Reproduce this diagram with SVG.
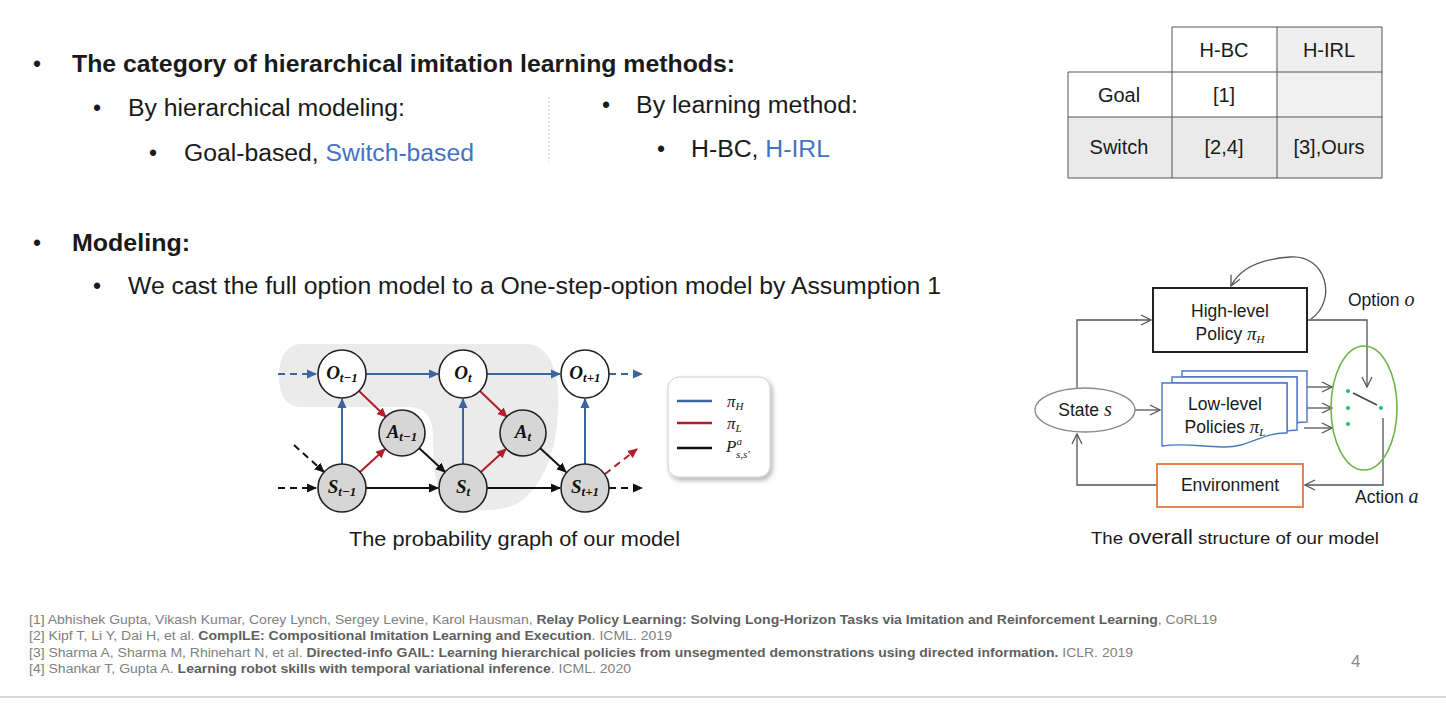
<svg xmlns="http://www.w3.org/2000/svg" width="1446" height="720" viewBox="0 0 1446 720">
  <style>
    .sans { font-family: "Liberation Sans", Arial, sans-serif; }
    .body { font-family: "Liberation Sans", Arial, sans-serif; font-size: 23px; fill: #1a1a1a; }
    .bold { font-weight: bold; }
    .blue { fill: #4472c4; }
    .bullet { font-family: "Liberation Sans", Arial, sans-serif; font-size: 23px; fill: #1a1a1a; text-anchor: middle; }
    .math { font-family: "Liberation Serif", "Times New Roman", serif; font-style: italic; }
    .nodelabel { font-family: "Liberation Serif", "Times New Roman", serif; font-style: italic; font-weight: bold; font-size: 19px; fill: #111; text-anchor: middle; }
    .cell { font-family: "Liberation Sans", Arial, sans-serif; font-size: 20px; fill: #1a1a1a; text-anchor: middle; }
    .ref { font-family: "Liberation Sans", Arial, sans-serif; font-size: 12.5px; fill: #7f7f7f; }
    .refb { font-weight: bold; fill: #5f5f5f; }
    .lbl { font-family: "Liberation Sans", Arial, sans-serif; font-size: 17.5px; fill: #1a1a1a; }
    .edge-b { stroke: #3b64a0; stroke-width: 2; fill: none; }
    .edge-r { stroke: #b21e2b; stroke-width: 2; fill: none; }
    .edge-k { stroke: #111; stroke-width: 2; fill: none; }
    .dash { stroke-dasharray: 7 5; }
    .flow { stroke: #555; stroke-width: 1.3; fill: none; marker-end: url(#open); }
  </style>
  <defs>
    <marker id="ah-b" viewBox="0 0 10 10" refX="9" refY="5" markerWidth="10" markerHeight="10" markerUnits="userSpaceOnUse" orient="auto">
      <path d="M0,0.5 L10,5 L0,9.5 Z" fill="#3b64a0"/>
    </marker>
    <marker id="ah-r" viewBox="0 0 10 10" refX="9" refY="5" markerWidth="10" markerHeight="10" markerUnits="userSpaceOnUse" orient="auto">
      <path d="M0,0.5 L10,5 L0,9.5 Z" fill="#b21e2b"/>
    </marker>
    <marker id="ah-k" viewBox="0 0 10 10" refX="9" refY="5" markerWidth="10" markerHeight="10" markerUnits="userSpaceOnUse" orient="auto">
      <path d="M0,0.5 L10,5 L0,9.5 Z" fill="#111"/>
    </marker>
    <marker id="open" viewBox="0 0 12 12" refX="11" refY="6" markerWidth="12" markerHeight="12" markerUnits="userSpaceOnUse" orient="auto">
      <path d="M1,1 L11,6 L1,11" fill="none" stroke="#555" stroke-width="1.3"/>
    </marker>
    <filter id="shadow" x="-20%" y="-20%" width="150%" height="150%">
      <feDropShadow dx="2" dy="3" stdDeviation="2.5" flood-color="#000" flood-opacity="0.3"/>
    </filter>
  </defs>

  <rect width="1446" height="720" fill="#ffffff"/>

  <!-- Bullet list: categories -->
  <g id="category-list">
    <text class="bullet" x="37" y="72">•</text>
    <text class="body bold" x="72" y="72" textLength="663" lengthAdjust="spacingAndGlyphs">The category of hierarchical imitation learning methods:</text>
    <text class="bullet" x="97" y="116">•</text>
    <text class="body" x="128" y="116" textLength="277" lengthAdjust="spacingAndGlyphs">By hierarchical modeling:</text>
    <text class="bullet" x="153" y="161">•</text>
    <text class="body" x="184" y="161" textLength="290" lengthAdjust="spacingAndGlyphs">Goal-based, <tspan class="blue">Switch-based</tspan></text>
    <line x1="549" y1="97" x2="549" y2="162" stroke="#cfcfcf" stroke-width="1" stroke-dasharray="2 2"/>
    <text class="bullet" x="606" y="113">•</text>
    <text class="body" x="636" y="113" textLength="222" lengthAdjust="spacingAndGlyphs">By learning method:</text>
    <text class="bullet" x="661" y="157">•</text>
    <text class="body" x="691" y="157" textLength="139" lengthAdjust="spacingAndGlyphs">H-BC, <tspan class="blue">H-IRL</tspan></text>
  </g>

  <!-- Comparison table -->
  <g id="method-table">
    <rect x="1172" y="27" width="105" height="45" fill="#ffffff"/>
    <rect x="1277" y="27" width="105" height="45" fill="#efefef"/>
    <rect x="1068" y="72" width="209" height="45" fill="#ffffff"/>
    <rect x="1277" y="72" width="105" height="45" fill="#f1f1f1"/>
    <rect x="1068" y="117" width="314" height="61" fill="#eaeaea"/>
    <g stroke="#555" stroke-width="1" fill="none">
      <path d="M1172,27 H1382 V178 H1068 V72 H1382 M1068,117 H1382 M1172,27 V178 M1277,27 V178"/>
    </g>
    <text class="cell" x="1224" y="57">H-BC</text>
    <text class="cell" x="1329" y="57">H-IRL</text>
    <text class="cell" x="1119" y="102">Goal</text>
    <text class="cell" x="1224" y="102">[1]</text>
    <text class="cell" x="1119" y="154">Switch</text>
    <text class="cell" x="1224" y="154">[2,4]</text>
    <text class="cell" x="1329" y="154">[3],Ours</text>
  </g>

  <!-- Bullet list: modeling -->
  <g id="modeling-list">
    <text class="bullet" x="37" y="251">•</text>
    <text class="body bold" x="72" y="251" textLength="118" lengthAdjust="spacingAndGlyphs">Modeling:</text>
    <text class="bullet" x="97" y="294">•</text>
    <text class="body" x="128" y="294" textLength="813" lengthAdjust="spacingAndGlyphs">We cast the full option model to a One-step-option model by Assumption 1</text>
  </g>

  <!-- Probability graph: shaded option region behind the nodes -->
  <path id="option-region" d="M302,344 L528,344 C554,347 560,380 558,412 C556,452 544,484 520,502 C504,512 470,513 448,506 C433,490 433,455 433,435 C433,418 426,407 408,407 L302,407 C285,407 279,394 279,376 C279,357 287,344 302,344 Z" fill="#ebebeb"/>

  <g id="graph-connectors">
    <!-- option chain -->
    <line class="edge-b dash" x1="278" y1="374" x2="316" y2="374" marker-end="url(#ah-b)"/>
    <line class="edge-b" x1="366" y1="374" x2="438" y2="374" marker-end="url(#ah-b)"/>
    <line class="edge-b" x1="487" y1="374" x2="560" y2="374" marker-end="url(#ah-b)"/>
    <line class="edge-b dash" x1="609" y1="374" x2="642" y2="374" marker-end="url(#ah-b)"/>
    <!-- state to option -->
    <line class="edge-b" x1="342" y1="464" x2="342" y2="399" marker-end="url(#ah-b)"/>
    <line class="edge-b" x1="463" y1="464" x2="463" y2="399" marker-end="url(#ah-b)"/>
    <line class="edge-b" x1="585" y1="464" x2="585" y2="399" marker-end="url(#ah-b)"/>
    <!-- low-level policy -->
    <line class="edge-r" x1="359" y1="391" x2="386" y2="417" marker-end="url(#ah-r)"/>
    <line class="edge-r" x1="480" y1="391" x2="507" y2="417" marker-end="url(#ah-r)"/>
    <line class="edge-r" x1="360" y1="472" x2="385" y2="449" marker-end="url(#ah-r)"/>
    <line class="edge-r" x1="481" y1="472" x2="506" y2="449" marker-end="url(#ah-r)"/>
    <line class="edge-r dash" x1="605" y1="474" x2="637" y2="449" marker-end="url(#ah-r)"/>
    <!-- transitions -->
    <line class="edge-k dash" x1="294" y1="445" x2="324" y2="472" marker-end="url(#ah-k)"/>
    <line class="edge-k dash" x1="278" y1="488" x2="316" y2="488" marker-end="url(#ah-k)"/>
    <line class="edge-k" x1="419" y1="448" x2="445" y2="472" marker-end="url(#ah-k)"/>
    <line class="edge-k" x1="540" y1="448" x2="566" y2="472" marker-end="url(#ah-k)"/>
    <line class="edge-k" x1="366" y1="488" x2="438" y2="488" marker-end="url(#ah-k)"/>
    <line class="edge-k" x1="487" y1="488" x2="560" y2="488" marker-end="url(#ah-k)"/>
    <line class="edge-k dash" x1="609" y1="488" x2="642" y2="488" marker-end="url(#ah-k)"/>
  </g>

  <g id="node-o-prev">
    <circle cx="342" cy="374" r="24" fill="#fff" stroke="#222" stroke-width="1.6"/>
    <text class="nodelabel" x="342" y="379">O<tspan font-size="13" dy="3">t−1</tspan></text>
  </g>
  <g id="node-o-cur">
    <circle cx="463" cy="374" r="24" fill="#fff" stroke="#222" stroke-width="1.6"/>
    <text class="nodelabel" x="463" y="379">O<tspan font-size="13" dy="3">t</tspan></text>
  </g>
  <g id="node-o-next">
    <circle cx="585" cy="374" r="24" fill="#fff" stroke="#222" stroke-width="1.6"/>
    <text class="nodelabel" x="585" y="379">O<tspan font-size="13" dy="3">t+1</tspan></text>
  </g>
  <g id="node-a-prev">
    <circle cx="402" cy="433" r="23" fill="#d6d6d6" stroke="#222" stroke-width="1.6"/>
    <text class="nodelabel" x="402" y="438">A<tspan font-size="13" dy="3">t−1</tspan></text>
  </g>
  <g id="node-a-cur">
    <circle cx="523" cy="433" r="23" fill="#d6d6d6" stroke="#222" stroke-width="1.6"/>
    <text class="nodelabel" x="523" y="438">A<tspan font-size="13" dy="3">t</tspan></text>
  </g>
  <g id="node-s-prev">
    <circle cx="342" cy="488" r="24" fill="#d6d6d6" stroke="#222" stroke-width="1.6"/>
    <text class="nodelabel" x="342" y="493">S<tspan font-size="13" dy="3">t−1</tspan></text>
  </g>
  <g id="node-s-cur">
    <circle cx="463" cy="488" r="24" fill="#d6d6d6" stroke="#222" stroke-width="1.6"/>
    <text class="nodelabel" x="463" y="493">S<tspan font-size="13" dy="3">t</tspan></text>
  </g>
  <g id="node-s-next">
    <circle cx="585" cy="488" r="24" fill="#d6d6d6" stroke="#222" stroke-width="1.6"/>
    <text class="nodelabel" x="585" y="493">S<tspan font-size="13" dy="3">t+1</tspan></text>
  </g>

  <!-- Legend -->
  <g id="graph-legend">
    <rect x="668" y="377" width="102" height="100" rx="11" fill="#fff" stroke="#d0d0d0" filter="url(#shadow)"/>
    <line x1="677" y1="401" x2="712" y2="401" stroke="#3b64a0" stroke-width="2.5"/>
    <line x1="677" y1="423" x2="712" y2="423" stroke="#b21e2b" stroke-width="2.5"/>
    <line x1="677" y1="448" x2="712" y2="448" stroke="#111" stroke-width="2.5"/>
    <text class="math" x="727" y="407" font-size="17" fill="#222">π<tspan font-size="11" dy="3">H</tspan></text>
    <text class="math" x="727" y="429" font-size="17" fill="#222">π<tspan font-size="11" dy="3">L</tspan></text>
    <text class="math" x="726" y="452" font-size="17" fill="#222">P<tspan font-size="11" dy="-7">a</tspan><tspan font-size="11" dx="-6" dy="13">s,s'</tspan></text>
  </g>

  <text class="sans" x="349" y="546" font-size="19.5" fill="#1a1a1a" textLength="331" lengthAdjust="spacingAndGlyphs">The probability graph of our model</text>

  <!-- Overall structure -->
  <g id="structure-connectors">
    <path class="flow" d="M1311,319 C1338,300 1326,254 1290,257 C1262,259 1240,268 1231,286"/>
    <path class="flow" d="M1307,320 H1367 V387"/>
    <path class="flow" d="M1077,388 V320 H1151"/>
    <path class="flow" d="M1135,410 H1160"/>
    <path class="flow" d="M1304,387 H1332"/>
    <path class="flow" d="M1304,408 H1332"/>
    <path class="flow" d="M1304,428 H1332"/>
    <path class="flow" d="M1383,418 V485 H1305"/>
    <path class="flow" d="M1157,485 H1077 V434"/>
  </g>

  <g id="high-level-policy">
    <rect x="1153" y="288" width="154" height="64" fill="#fff" stroke="#222" stroke-width="2"/>
    <text class="lbl" x="1230" y="317" text-anchor="middle">High-level</text>
    <text class="lbl" x="1230" y="340" text-anchor="middle">Policy <tspan class="math" font-size="19">π</tspan><tspan class="math" font-size="11" dy="3">H</tspan></text>
  </g>

  <g id="state">
    <ellipse cx="1085" cy="410" rx="50" ry="22" fill="#fff" stroke="#8a8a8a" stroke-width="1.3"/>
    <text class="lbl" x="1085" y="416" text-anchor="middle">State <tspan class="math" font-size="20">s</tspan></text>
  </g>

  <g id="low-level-policies">
    <path d="M1182,371 H1307 V422 C1300,422 1297,423 1297,423 V377 H1182 Z" fill="#fff" stroke="#4a78c0" stroke-width="1.4"/>
    <path d="M1172,377 H1297 V430 C1292,430 1289,431 1287,431 V383 H1172 Z" fill="#fff" stroke="#4a78c0" stroke-width="1.4"/>
    <path d="M1162,383 H1287 V433 C1262,432 1250,448 1222,447 C1196,446 1182,443 1162,446 Z" fill="#fff" stroke="#4a78c0" stroke-width="1.4"/>
    <text class="lbl" x="1225" y="410" text-anchor="middle">Low-level</text>
    <text class="lbl" x="1225" y="433" text-anchor="middle">Policies <tspan class="math" font-size="19">π</tspan><tspan class="math" font-size="11" dy="3">L</tspan></text>
  </g>

  <g id="option-switch">
    <ellipse cx="1364" cy="408" rx="33" ry="62" fill="none" stroke="#6cb548" stroke-width="1.6"/>
    <circle cx="1348" cy="391" r="2" fill="#1fbf6a"/>
    <circle cx="1348" cy="408" r="2" fill="#1fbf6a"/>
    <circle cx="1348" cy="424" r="2" fill="#1fbf6a"/>
    <circle cx="1381" cy="408" r="2" fill="#1fbf6a"/>
    <line x1="1353" y1="393" x2="1377" y2="405" stroke="#444" stroke-width="1.4"/>
  </g>

  <g id="environment">
    <rect x="1157" y="464" width="146" height="43" fill="#fff" stroke="#e4763f" stroke-width="1.8"/>
    <text class="lbl" x="1230" y="491" text-anchor="middle">Environment</text>
  </g>

  <text class="lbl" x="1348" y="306">Option <tspan class="math" font-size="20">o</tspan></text>
  <text class="lbl" x="1355" y="503">Action <tspan class="math" font-size="20">a</tspan></text>

  <text class="sans" x="1091" y="544" font-size="17" fill="#1a1a1a" textLength="288" lengthAdjust="spacingAndGlyphs">The <tspan font-size="20">overall</tspan> structure of our model</text>

  <!-- References -->
  <g id="references">
    <text class="ref" x="29" y="624" textLength="1188" lengthAdjust="spacingAndGlyphs">[1] Abhishek Gupta, Vikash Kumar, Corey Lynch, Sergey Levine, Karol Hausman, <tspan class="refb">Relay Policy Learning: Solving Long-Horizon Tasks via Imitation and Reinforcement Learning</tspan>, CoRL19</text>
    <text class="ref" x="29" y="640" textLength="643" lengthAdjust="spacingAndGlyphs">[2] Kipf T, Li Y, Dai H, et al. <tspan class="refb">CompILE: Compositional Imitation Learning and Execution</tspan>. ICML. 2019</text>
    <text class="ref" x="29" y="657" textLength="1104" lengthAdjust="spacingAndGlyphs">[3] Sharma A, Sharma M, Rhinehart N, et al. <tspan class="refb">Directed-info GAIL: Learning hierarchical policies from unsegmented demonstrations using directed information.</tspan> ICLR. 2019</text>
    <text class="ref" x="29" y="673" textLength="602" lengthAdjust="spacingAndGlyphs">[4] Shankar T, Gupta A. <tspan class="refb">Learning robot skills with temporal variational inference</tspan>. ICML. 2020</text>
  </g>

  <text class="sans" x="1351" y="667" font-size="17" fill="#8a8a8a">4</text>
  <line x1="0" y1="697" x2="1446" y2="697" stroke="#d9d9d9" stroke-width="2"/>
</svg>
